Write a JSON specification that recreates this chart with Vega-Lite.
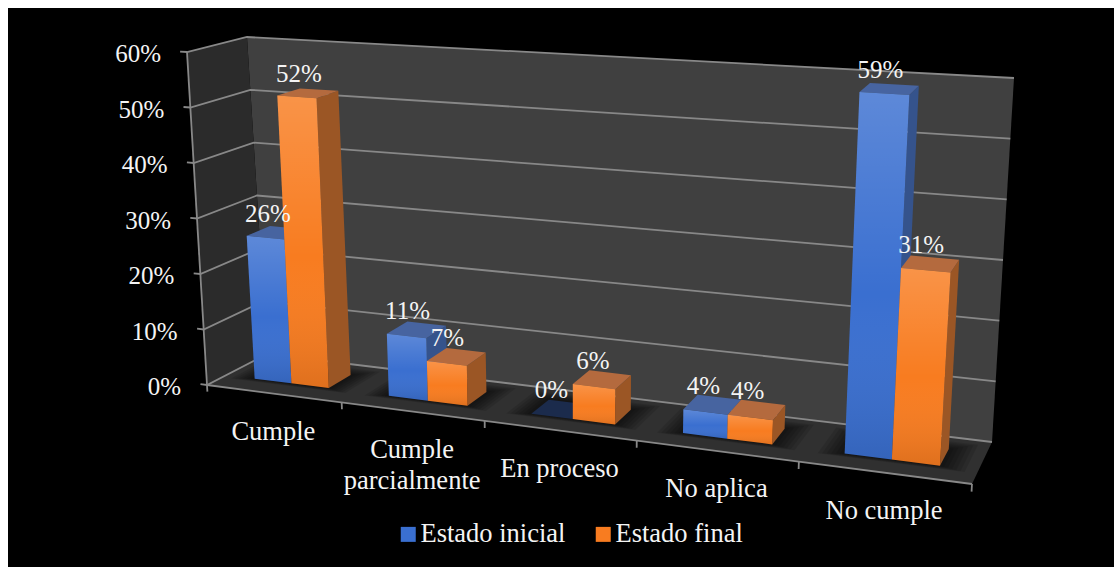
{
  "$schema": "https://vega.github.io/schema/vega-lite/v6.json",
  "width": 1106,
  "height": 559,
  "padding": {"left": 8, "top": 8, "right": 0, "bottom": 0},
  "autosize": "none",
  "background": "#ffffff",
  "view": {"fill": "#000000", "stroke": null},
  "config": {"text": {"font": "Liberation Serif", "color": "#f4f4f4"}},
  "datasets": {
    "barras": [
      {"categoria": "Cumple", "serie": "Estado inicial", "valor": 26},
      {"categoria": "Cumple", "serie": "Estado final", "valor": 52},
      {"categoria": "Cumple parcialmente", "serie": "Estado inicial", "valor": 11},
      {"categoria": "Cumple parcialmente", "serie": "Estado final", "valor": 7},
      {"categoria": "En proceso", "serie": "Estado inicial", "valor": 0},
      {"categoria": "En proceso", "serie": "Estado final", "valor": 6},
      {"categoria": "No aplica", "serie": "Estado inicial", "valor": 4},
      {"categoria": "No aplica", "serie": "Estado final", "valor": 4},
      {"categoria": "No cumple", "serie": "Estado inicial", "valor": 59},
      {"categoria": "No cumple", "serie": "Estado final", "valor": 31}
    ],
    "planos": [{"plano": "fondo"}, {"plano": "lateral"}, {"plano": "suelo"}],
    "guias": [
      {"guia": "rejilla", "nivel": 0},
      {"guia": "rejilla", "nivel": 10},
      {"guia": "rejilla", "nivel": 20},
      {"guia": "rejilla", "nivel": 30},
      {"guia": "rejilla", "nivel": 40},
      {"guia": "rejilla", "nivel": 50},
      {"guia": "rejilla", "nivel": 60},
      {"guia": "corte", "nivel": 0},
      {"guia": "corte", "nivel": 1},
      {"guia": "corte", "nivel": 2},
      {"guia": "corte", "nivel": 3},
      {"guia": "corte", "nivel": 4},
      {"guia": "corte", "nivel": 5},
      {"guia": "eje", "nivel": 0},
      {"guia": "eje", "nivel": 1}
    ]
  },
  "encoding": {
    "x": {"field": "px", "type": "quantitative", "axis": null, "scale": {"domain": [8, 1114], "nice": false, "zero": false}},
    "y": {"field": "py", "type": "quantitative", "axis": null, "scale": {"domain": [567, 8], "nice": false, "zero": false}}
  },
  "layer": [
    {
      "data": {"name": "planos"},
      "transform": [
        {"calculate": "[0,1,2,3]", "as": "e"},
        {"flatten": ["e"]},
        {"calculate": "datum.plano == 'lateral' ? 0 : (datum.e == 1 || datum.e == 2 ? 1 : 0)", "as": "u"},
        {"calculate": "datum.plano == 'fondo' ? 1 : datum.plano == 'lateral' ? (datum.e == 1 || datum.e == 2 ? 1 : 0) : (datum.e >= 2 ? 1 : 0)", "as": "w"},
        {"calculate": "datum.plano == 'suelo' ? 0 : (datum.e >= 2 ? 60 : 0)", "as": "v"},
        {"calculate": "datum.plano == 'fondo' ? '#404040' : datum.plano == 'lateral' ? '#2b2b2b' : '#303030'", "as": "tinte"},
        {"calculate": "datum.u / (datum.u + 1.17 * (1 - datum.u))", "as": "t"},
        {"calculate": "datum.v / 60", "as": "s"},
        {"calculate": "(1 - datum.w) * ((1 - datum.s) * (207 + 765 * datum.t) + datum.s * (187 + 808 * datum.t)) + datum.w * ((1 - datum.s) * (267 + 725 * datum.t) + datum.s * (247 + 767 * datum.t))", "as": "px"},
        {"calculate": "(1 - datum.w) * ((1 - datum.s) * (385 + 99 * datum.t) + datum.s * (52 + 50 * datum.t)) + datum.w * ((1 - datum.s) * (354 + 88 * datum.t) + datum.s * (37 + 41 * datum.t))", "as": "py"}
      ],
      "mark": {"type": "line", "strokeWidth": 0},
      "encoding": {
        "detail": {"field": "plano"},
        "order": {"field": "e", "type": "quantitative"},
        "fill": {"field": "tinte", "type": "nominal", "scale": null}
      }
    },
    {
      "data": {"name": "guias"},
      "transform": [
        {"calculate": "datum.guia == 'rejilla' ? [0,1,2,3] : [0,1]", "as": "e"},
        {"flatten": ["e"]},
        {"calculate": "datum.guia == 'rejilla' ? [-0.01,0,0,1][datum.e] : datum.guia == 'corte' ? datum.nivel / 5 : (datum.nivel == 0 ? 0 : datum.e)", "as": "u"},
        {"calculate": "datum.guia == 'rejilla' ? [0,0,1,1][datum.e] : 0", "as": "w"},
        {"calculate": "datum.guia == 'rejilla' ? datum.nivel : datum.guia == 'corte' ? datum.e * -1.2 : (datum.nivel == 0 ? datum.e * 60 : 0)", "as": "v"},
        {"calculate": "datum.guia + datum.nivel", "as": "trazo"},
        {"calculate": "datum.u / (datum.u + 1.17 * (1 - datum.u))", "as": "t"},
        {"calculate": "datum.v / 60", "as": "s"},
        {"calculate": "(1 - datum.w) * ((1 - datum.s) * (207 + 765 * datum.t) + datum.s * (187 + 808 * datum.t)) + datum.w * ((1 - datum.s) * (267 + 725 * datum.t) + datum.s * (247 + 767 * datum.t))", "as": "px"},
        {"calculate": "(1 - datum.w) * ((1 - datum.s) * (385 + 99 * datum.t) + datum.s * (52 + 50 * datum.t)) + datum.w * ((1 - datum.s) * (354 + 88 * datum.t) + datum.s * (37 + 41 * datum.t))", "as": "py"}
      ],
      "mark": {"type": "line", "stroke": "#888888", "strokeWidth": 1.8},
      "encoding": {
        "detail": {"field": "trazo"},
        "order": {"field": "e", "type": "quantitative"}
      }
    },
    {
      "data": {"name": "barras"},
      "transform": [
        {"filter": "datum.serie == 'Estado inicial'"},
        {"calculate": "[6,5,4,3,2,1]", "as": "halo"},
        {"flatten": ["halo"]},
        {"calculate": "[0,1,2,3]", "as": "e"},
        {"flatten": ["e"]},
        {"calculate": "(indexof(['Cumple','Cumple parcialmente','En proceso','No aplica','No cumple'], datum.categoria) + 0.5) / 5", "as": "c"},
        {"calculate": "datum.c + (datum.e == 1 || datum.e == 2 ? 1 : -1) * (0.056 + datum.halo * 0.005)", "as": "u"},
        {"calculate": "datum.e >= 2 ? 0.72 + datum.halo * 0.03 : 0.32 - datum.halo * 0.012", "as": "w"},
        {"calculate": "0", "as": "v"},
        {"calculate": "datum.categoria + datum.halo", "as": "trazo"},
        {"calculate": "datum.u / (datum.u + 1.17 * (1 - datum.u))", "as": "t"},
        {"calculate": "datum.v / 60", "as": "s"},
        {"calculate": "(1 - datum.w) * ((1 - datum.s) * (207 + 765 * datum.t) + datum.s * (187 + 808 * datum.t)) + datum.w * ((1 - datum.s) * (267 + 725 * datum.t) + datum.s * (247 + 767 * datum.t))", "as": "px"},
        {"calculate": "(1 - datum.w) * ((1 - datum.s) * (385 + 99 * datum.t) + datum.s * (52 + 50 * datum.t)) + datum.w * ((1 - datum.s) * (354 + 88 * datum.t) + datum.s * (37 + 41 * datum.t))", "as": "py"}
      ],
      "mark": {"type": "line", "strokeWidth": 0, "fill": "#000000", "fillOpacity": 0.11},
      "encoding": {
        "detail": {"field": "trazo"},
        "order": {"field": "e", "type": "quantitative"}
      }
    },
    {
      "data": {"name": "barras"},
      "transform": [
        {"calculate": "['lado','tapa','frente']", "as": "cara"},
        {"flatten": ["cara"]},
        {"calculate": "[0,1,2,3]", "as": "e"},
        {"flatten": ["e"]},
        {"calculate": "(indexof(['Cumple','Cumple parcialmente','En proceso','No aplica','No cumple'], datum.categoria) + 0.5) / 5 + (datum.serie == 'Estado inicial' ? -0.028 : 0.028)", "as": "c"},
        {"calculate": "datum.cara == 'lado' ? datum.c + 0.028 : datum.c + (datum.e == 1 || datum.e == 2 ? 0.028 : -0.028)", "as": "u"},
        {"calculate": "datum.cara == 'frente' ? 0.32 : datum.cara == 'lado' ? (datum.e == 1 || datum.e == 2 ? 0.72 : 0.32) : (datum.e >= 2 ? 0.72 : 0.32)", "as": "w"},
        {"calculate": "datum.cara == 'tapa' ? datum.valor : (datum.e >= 2 ? datum.valor : 0)", "as": "v"},
        {"calculate": "datum.categoria + datum.serie + datum.cara", "as": "trazo"},
        {"calculate": "datum.cara == 'frente' ? datum.serie : datum.cara == 'tapa' && datum.valor == 0 ? 'tapa nula' : datum.cara + (datum.serie == 'Estado inicial' ? ' inicial' : ' final')", "as": "tono"},
        {"calculate": "datum.u / (datum.u + 1.17 * (1 - datum.u))", "as": "t"},
        {"calculate": "datum.v / 60", "as": "s"},
        {"calculate": "(1 - datum.w) * ((1 - datum.s) * (207 + 765 * datum.t) + datum.s * (187 + 808 * datum.t)) + datum.w * ((1 - datum.s) * (267 + 725 * datum.t) + datum.s * (247 + 767 * datum.t))", "as": "px"},
        {"calculate": "(1 - datum.w) * ((1 - datum.s) * (385 + 99 * datum.t) + datum.s * (52 + 50 * datum.t)) + datum.w * ((1 - datum.s) * (354 + 88 * datum.t) + datum.s * (37 + 41 * datum.t))", "as": "py"}
      ],
      "layer": [
        {
          "mark": {"type": "line", "strokeWidth": 0},
          "encoding": {
            "detail": {"field": "trazo"},
            "order": {"field": "e", "type": "quantitative"},
            "fill": {
              "field": "tono",
              "type": "nominal",
              "scale": {
                "domain": ["Estado inicial", "Estado final", "lado inicial", "tapa inicial", "lado final", "tapa final", "tapa nula"],
                "range": ["#3a6fd0", "#f87c20", "#35538c", "#4764a0", "#9b5625", "#b46a3e", "#1b2b4c"]
              },
              "legend": {
                "values": ["Estado inicial", "Estado final"],
                "orient": "none",
                "legendX": 387,
                "legendY": 513,
                "direction": "horizontal",
                "columns": 2,
                "title": null,
                "symbolType": "square",
                "symbolSize": 225,
                "symbolStrokeWidth": 0,
                "labelFont": "Liberation Serif",
                "labelFontSize": 26.5,
                "labelColor": "#f4f4f4",
                "labelOffset": -1,
                "labelLimit": 300,
                "columnPadding": 24
              }
            }
          }
        },
        {
          "transform": [{"filter": "datum.cara == 'frente'"}],
          "mark": {
            "type": "line",
            "strokeWidth": 0,
            "fill": {
              "gradient": "linear",
              "x1": 0, "y1": 0, "x2": 0, "y2": 1,
              "stops": [
                {"offset": 0, "color": "rgba(255,255,255,0.18)"},
                {"offset": 0.55, "color": "rgba(255,255,255,0)"},
                {"offset": 1, "color": "rgba(0,0,0,0.1)"}
              ]
            }
          },
          "encoding": {
            "detail": {"field": "trazo"},
            "order": {"field": "e", "type": "quantitative"}
          }
        }
      ]
    },
    {
      "data": {"name": "guias"},
      "transform": [
        {"filter": "datum.guia == 'rejilla'"},
        {"calculate": "datum.nivel + '%'", "as": "rotulo"},
        {"calculate": "(1 - datum.nivel / 60) * 207 + datum.nivel / 60 * 187", "as": "px"},
        {"calculate": "(1 - datum.nivel / 60) * 385 + datum.nivel / 60 * 52", "as": "py"}
      ],
      "mark": {"type": "text", "align": "right", "baseline": "middle", "dx": -26, "dy": 2, "fontSize": 25},
      "encoding": {"text": {"field": "rotulo"}}
    },
    {
      "data": {"name": "barras"},
      "transform": [
        {"calculate": "(indexof(['Cumple','Cumple parcialmente','En proceso','No aplica','No cumple'], datum.categoria) + 0.5) / 5 + (datum.serie == 'Estado inicial' ? -0.028 : 0.028)", "as": "u"},
        {"calculate": "0.52", "as": "w"},
        {"calculate": "datum.valor", "as": "v"},
        {"calculate": "datum.valor + '%'", "as": "rotulo"},
        {"calculate": "datum.u / (datum.u + 1.17 * (1 - datum.u))", "as": "t"},
        {"calculate": "datum.v / 60", "as": "s"},
        {"calculate": "(1 - datum.w) * ((1 - datum.s) * (207 + 765 * datum.t) + datum.s * (187 + 808 * datum.t)) + datum.w * ((1 - datum.s) * (267 + 725 * datum.t) + datum.s * (247 + 767 * datum.t))", "as": "px"},
        {"calculate": "(1 - datum.w) * ((1 - datum.s) * (385 + 99 * datum.t) + datum.s * (52 + 50 * datum.t)) + datum.w * ((1 - datum.s) * (354 + 88 * datum.t) + datum.s * (37 + 41 * datum.t))", "as": "py"}
      ],
      "mark": {"type": "text", "align": "center", "baseline": "middle", "dx": -9, "dy": -19, "fontSize": 25},
      "encoding": {"text": {"field": "rotulo"}}
    },
    {
      "data": {"name": "barras"},
      "transform": [
        {"filter": "datum.serie == 'Estado inicial'"},
        {"calculate": "(indexof(['Cumple','Cumple parcialmente','En proceso','No aplica','No cumple'], datum.categoria) + 0.5) / 5", "as": "u"},
        {"calculate": "datum.u / (datum.u + 1.17 * (1 - datum.u))", "as": "t"},
        {"calculate": "207 + 765 * datum.t", "as": "px"},
        {"calculate": "385 + 99 * datum.t", "as": "py"},
        {"calculate": "datum.categoria == 'Cumple parcialmente' ? 'Cumple|parcialmente' : datum.categoria", "as": "rotulo"}
      ],
      "mark": {"type": "text", "align": "center", "baseline": "top", "dy": 25, "fontSize": 26.5, "lineBreak": "|", "lineHeight": 31},
      "encoding": {"text": {"field": "rotulo"}}
    }
  ]
}
